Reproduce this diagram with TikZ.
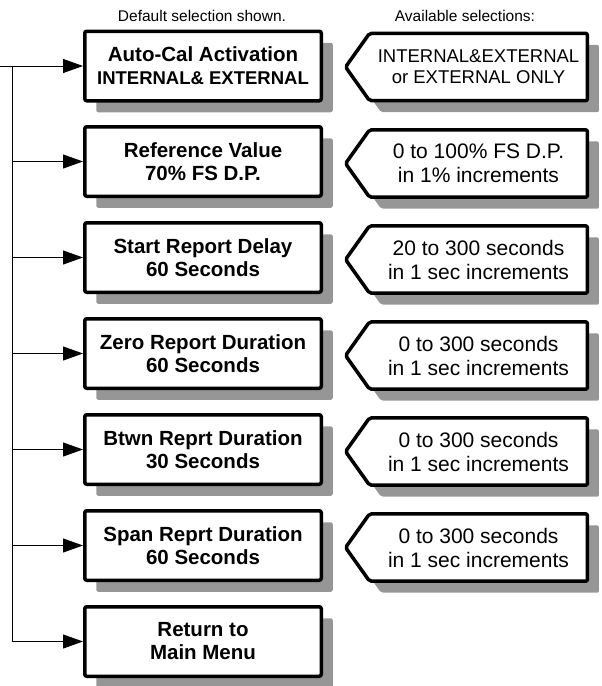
\documentclass[tikz,border=0pt]{standalone}
\usepackage{fontspec}
\setmainfont{Liberation Sans}
\usetikzlibrary{arrows.meta,calc,shadows}
\pgfdeclarelayer{background}
\pgfsetlayers{background,main}
\definecolor{shadowgray}{RGB}{150,150,150}
\begin{document}
\begin{tikzpicture}[x=1pt,y=-1pt,
  lbox/.style={draw, line width=3.5pt, rounded corners=2pt, fill=white,
    minimum width=236.5pt, minimum height=69.5pt, inner sep=0pt, align=center,
    font=\fontsize{20.5}{23}\selectfont\bfseries,
    drop shadow={shadow xshift=11.5pt, shadow yshift=-11.5pt, fill=shadowgray, opacity=1}},
  rtext/.style={minimum width=217.5pt, minimum height=67pt, inner sep=0pt, align=center,
    font=\fontsize{21}{24}\selectfont},
  rbox/.style={draw, line width=3.5pt, rounded corners=2pt, fill=white, line join=round},
  rshadow/.style={fill=shadowgray, rounded corners=2pt},
  conn/.style={line width=1pt, -{Triangle[length=20pt,width=14pt]}},
  title/.style={font=\fontsize{15.5}{18}\selectfont, anchor=base, inner sep=0pt}]
\useasboundingbox (0,0) rectangle (602,686);

\node[title] (t1) at (202,21) {Default selection shown.};
\node[title] (t2) at (465,21) {Available selections:};

\node[lbox] (b1) at (203,66) {Auto-Cal Activation\\{\fontsize{18.5}{21}\selectfont INTERNAL\& EXTERNAL}};
\node[lbox] (b2) at (203,161.5) {Reference Value\\70\% FS D.P.};
\node[lbox] (b3) at (203,257.5) {Start Report Delay\\60 Seconds};
\node[lbox] (b4) at (203,353.5) {Zero Report Duration\\60 Seconds};
\node[lbox] (b5) at (203,449.5) {Btwn Reprt Duration\\30 Seconds};
\node[lbox] (b6) at (203,545.5) {Span Reprt Duration\\60 Seconds};
\node[lbox] (b7) at (203,641.5) {Return to\\Main Menu};

\node[rtext, font=\fontsize{18.5}{21}\selectfont] (r1) at (478.5,67) {INTERNAL\&EXTERNAL\\or EXTERNAL ONLY};
\node[rtext] (r2) at (478.5,163.5) {0 to 100\% FS D.P.\\in 1\% increments};
\node[rtext] (r3) at (478.5,259.5) {20 to 300 seconds\\in 1 sec increments};
\node[rtext] (r4) at (478.5,355.5) {0 to 300 seconds\\in 1 sec increments};
\node[rtext] (r5) at (478.5,451.5) {0 to 300 seconds\\in 1 sec increments};
\node[rtext] (r6) at (478.5,547.5) {0 to 300 seconds\\in 1 sec increments};

\begin{pgfonlayer}{background}
\foreach \n in {r1,r2,r3,r4,r5,r6} {
  \fill[rshadow, transform canvas={xshift=11.5pt,yshift=-11.5pt}]
    (\n.north west) -- (\n.north east) -- (\n.south east) -- (\n.south west)
    -- ($(\n.west)+(-24,0)$) -- cycle;
  \draw[rbox]
    (\n.north west) -- (\n.north east) -- (\n.south east) -- (\n.south west)
    -- ($(\n.west)+(-24,0)$) -- cycle;
}
\end{pgfonlayer}

\coordinate (in) at (0,66);
\coordinate (bus) at (12,0);
\draw[conn] (in) -- (b1.west);
\draw[conn] (bus |- b1.west) |- (b7.west);
\foreach \i in {2,3,4,5,6} {
  \draw[conn] (bus |- b\i.west) -- (b\i.west);
}
\end{tikzpicture}
\end{document}
